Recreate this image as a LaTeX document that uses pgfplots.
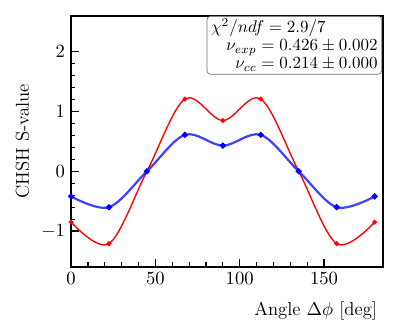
\documentclass[border=0pt]{standalone}
\usepackage{pgfplots}
\pgfplotsset{compat=1.18}

\pgfplotstableread{
x     red    blue
0     -0.85  -0.42
22.5  -1.21  -0.60
45     0.00   0.00
67.5   1.21   0.61
90     0.85   0.43
112.5  1.21   0.61
135    0.00   0.00
157.5 -1.21  -0.60
180   -0.85  -0.42
}\chsh

\begin{document}
\begin{tikzpicture}
\begin{axis}[
    scale only axis,
    width=183.5pt, height=147.6pt,
    xmin=0, xmax=185,
    ymin=-1.6, ymax=2.6,
    xtick={0,50,100,150},
    ytick={-1,0,1,2},
    minor x tick num=4,
    minor y tick num=4,
    tick align=inside,
    xtick pos=bottom, ytick pos=left,
    major tick length=4.6pt,
    minor tick length=2.6pt,
    every tick/.style={black, line width=0.7pt},
    axis line style={line width=1.2pt},
    tick label style={font=\fontsize{10.5}{12}\selectfont},
    label style={font=\fontsize{11}{13}\selectfont},
    xlabel={Angle $\Delta\phi$ [deg]},
    ylabel={CHSH S-value},
    xlabel style={at={(rel axis cs:1,0)}, anchor=north east, yshift=-17pt},
    ylabel style={at={(rel axis cs:0,0.5)}, anchor=south, yshift=21pt},
    clip=false,
]
\path (rel axis cs:0,0) ++(-41.8pt,-38.8pt) coordinate (bl);
\path (rel axis cs:1,1) ++(9.4pt,9.4pt) coordinate (tr);
\useasboundingbox (bl) rectangle (tr);

\addplot[red, line width=0.8pt, smooth, tension=0.55, mark=*, mark size=1pt]
    table[x=x, y=red] {\chsh};
\addplot[blue, opacity=0.75, line width=1.3pt, smooth, tension=0.55, mark=*, mark size=1.05pt,
    mark options={opacity=1}]
    table[x=x, y=blue] {\chsh};

\node[draw=black!55, rounded corners=2pt, fill=white, anchor=north east,
      align=left, inner xsep=2.4pt, inner ysep=1.6pt,
      font=\fontsize{9.6}{10.6}\selectfont]
    at (rel axis cs:0.997,1) {%
    \makebox[98pt][l]{$\chi^2/ndf = 2.9/7$}\\
    \makebox[98pt][r]{$\nu_{exp} = 0.426 \pm 0.002$}\\
    \makebox[98pt][r]{$\nu_{cc} = 0.214 \pm 0.000$}};
\end{axis}
\end{tikzpicture}
\end{document}
